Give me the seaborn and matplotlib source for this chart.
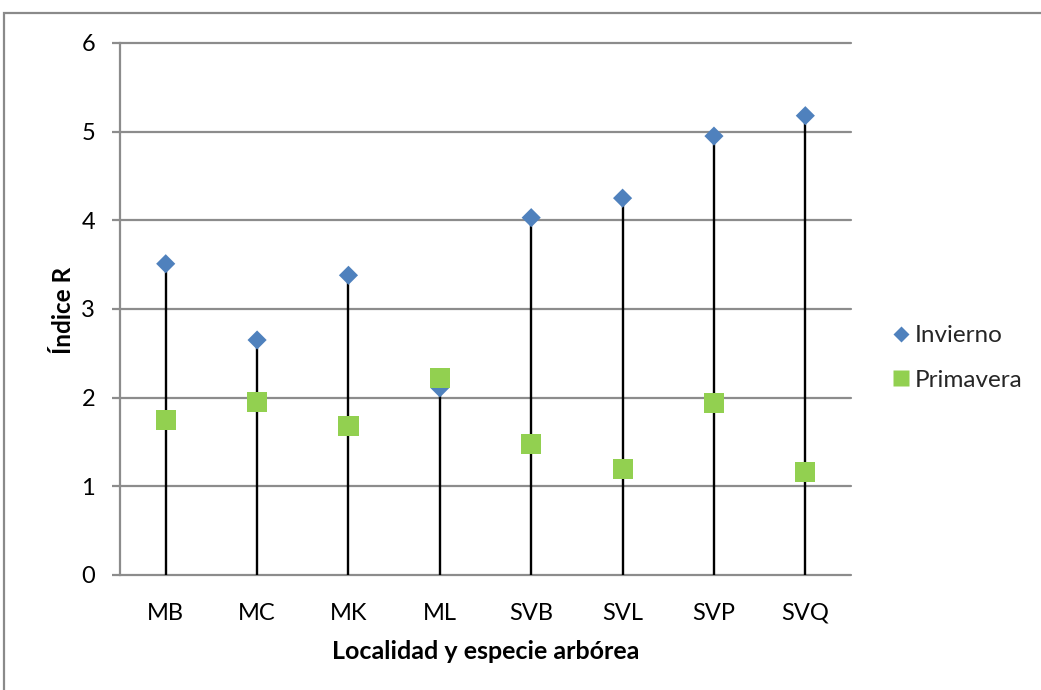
import matplotlib
matplotlib.use("Agg")
import matplotlib.pyplot as plt
from matplotlib.lines import Line2D
from matplotlib.patches import Rectangle
import numpy as np
import pandas as pd
import seaborn as sns

# Índice R por localidad / especie arbórea y estación
categorias = ["MB", "MC", "MK", "ML", "SVB", "SVL", "SVP", "SVQ"]
invierno = [3.51, 2.65, 3.38, 2.11, 4.03, 4.25, 4.95, 5.18]
primavera = [1.75, 1.95, 1.68, 2.22, 1.48, 1.20, 1.94, 1.16]
y_ticks = [0, 1, 2, 3, 4, 5, 6]

sns.set_theme(style="white")
plt.rcParams["font.family"] = ["Lato", "DejaVu Sans"]

df = pd.DataFrame({"Categoria": categorias, "Invierno": invierno, "Primavera": primavera})

fig = plt.figure(figsize=(10.41, 6.9), dpi=100)
ax = fig.add_axes([0.1153, 0.1667, 0.7022, 0.771])

grid_col = "#8c8c8c"
blue = "#4F81BD"
green = "#92D050"

# drop lines from each point down to the axis
pos = np.arange(len(categorias))
tops = np.maximum(df["Invierno"].values, df["Primavera"].values)
ax.vlines(pos, 0, tops, color="black", lw=1.7, zorder=2)

sns.scatterplot(data=df, x="Categoria", y="Invierno", marker="D", s=95,
                color=blue, edgecolor="none", ax=ax, zorder=3)
sns.scatterplot(data=df, x="Categoria", y="Primavera", marker="s", s=210,
                color=green, edgecolor="none", ax=ax, zorder=4)

ax.set_xlim(-0.5, len(categorias) - 0.5)
ax.set_ylim(0, 6)
ax.set_yticks(y_ticks)
ax.set_yticklabels([str(t) for t in y_ticks])
ax.set_xticks(pos)
ax.set_xticklabels(categorias)

for y in y_ticks:
    ax.axhline(y, color=grid_col, lw=1.6, zorder=1, clip_on=False)

for side in ["top", "right", "bottom"]:
    ax.spines[side].set_visible(False)
ax.spines["left"].set_color(grid_col)
ax.spines["left"].set_linewidth(1.6)

ax.tick_params(axis="y", which="both", left=True, length=6, width=1.6,
               color=grid_col, pad=12, labelsize=17, labelcolor="black")
ax.tick_params(axis="x", length=0, pad=20, labelsize=17, labelcolor="black")

ax.set_xlabel("Localidad y especie arbórea", fontsize=18, fontweight="bold",
              color="black", va="top")
ax.xaxis.set_label_coords(0.5, -0.122)
ax.set_ylabel("Índice R", fontsize=17.5, fontweight="bold", color="black")
ax.yaxis.set_label_coords(-0.0616, 0.497)

handles = [
    Line2D([], [], marker="D", linestyle="none", color=blue, markersize=8,
           markeredgecolor="none", label="Invierno"),
    Line2D([], [], marker="s", linestyle="none", color=green, markersize=11.5,
           markeredgecolor="none", label="Primavera"),
]
fig.legend(handles=handles, loc="center left", bbox_to_anchor=(0.8585, 0.4812),
           frameon=False, fontsize=17.5, handlelength=0.6, handletextpad=0.28,
           labelspacing=0.95, borderaxespad=0, borderpad=0)

# outer chart frame
fig.patches.append(Rectangle((4 / 1041, -0.1), 1.2, (690 - 13) / 690 + 0.1,
                             transform=fig.transFigure, fill=False,
                             edgecolor="#8a8a8a", lw=1.6, zorder=0))

fig.savefig("out.png", dpi=100)
